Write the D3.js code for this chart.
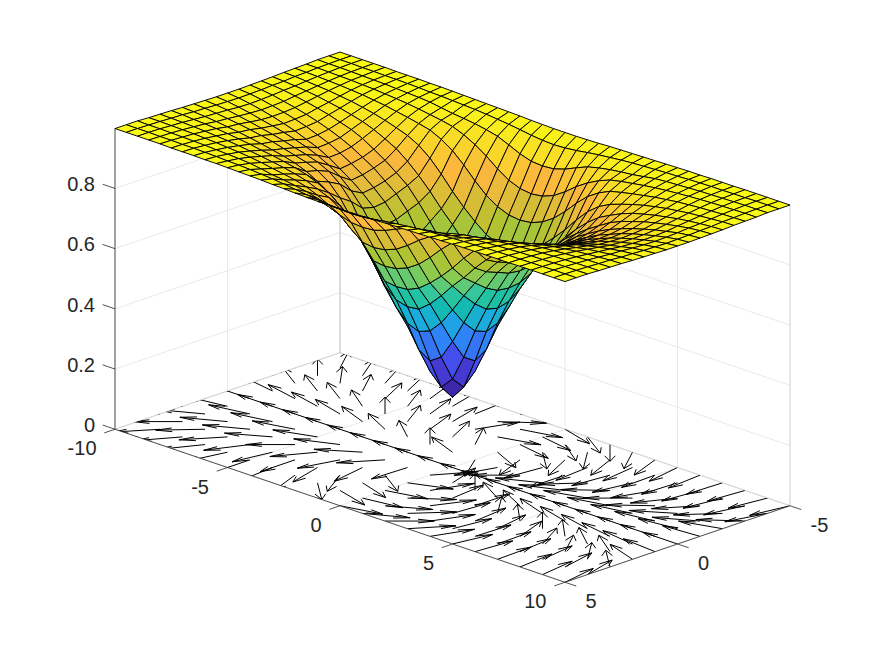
<!DOCTYPE html>
<html><head><meta charset="utf-8">
<script src="https://cdn.jsdelivr.net/npm/d3@7"></script>
<style>html,body{margin:0;background:#fff}svg{display:block}text{font-family:"Liberation Sans",Arial,sans-serif;font-size:20px;fill:#262626}</style>
</head><body><svg id="c" width="875" height="656"></svg>
<script>
// surface mesh coordinates
const surfX = d3.range(-20,21).map(d=>d/2);
const surfY = d3.range(-10,11).map(d=>d/2);
// surface height: rows |y| = 0, .5 ... 5, columns |x| = 0, .5 ... 10
// main table (x>=0 or y<=0)
const zRow00=[.233,.28,.38,.49,.58,.66,.73,.775,.81,.84,.865,.89,.91,.925,.94,.952,.963,.972,.98,.986,.99];
const zRow05=[.28,.32,.405,.505,.59,.665,.735,.78,.815,.845,.87,.892,.912,.927,.942,.954,.964,.973,.981,.987,.99];
const zRow10=[.38,.405,.47,.545,.62,.685,.75,.795,.825,.855,.878,.9,.918,.933,.946,.957,.967,.975,.983,.988,.991];
const zRow15=[.49,.505,.545,.6,.66,.715,.765,.81,.84,.868,.892,.915,.932,.944,.956,.965,.973,.98,.986,.99,.992];
const zRow20=[.585,.59,.62,.66,.705,.745,.79,.83,.865,.894,.914,.932,.946,.956,.965,.972,.979,.984,.988,.991,.993];
const zRow25=[.665,.668,.685,.715,.75,.79,.835,.875,.905,.925,.938,.95,.96,.968,.975,.98,.985,.988,.991,.994,.995];
const zRow30=[.745,.75,.765,.79,.825,.865,.9,.925,.943,.952,.96,.967,.974,.979,.984,.987,.99,.992,.994,.995,.996];
const zRow35=[.82,.825,.84,.865,.895,.92,.94,.955,.963,.969,.975,.98,.984,.987,.99,.992,.994,.995,.996,.997,.997];
const zRow40=[.9,.903,.915,.932,.948,.957,.964,.969,.973,.979,.985,.988,.99,.992,.994,.995,.996,.997,.998,.998,.999];
const zRow45=[.958,.96,.964,.97,.975,.979,.983,.986,.988,.99,.992,.993,.995,.996,.997,.997,.998,.998,.999,.999,.999];
const zRow50=[.986,.986,.987,.988,.99,.991,.992,.993,.994,.995,.996,.997,.997,.998,.998,.998,.999,.999,.999,.999,.999];
const zRows=[zRow00,zRow05,zRow10,zRow15,zRow20,zRow25,zRow30,zRow35,zRow40,zRow45,zRow50];
// the quarter with x<0 and y>0 is steeper
const zSteep00=[.233,.28,.38,.49,.58,.66,.73,.775,.81,.84,.865,.89,.91,.925,.94,.952,.963,.972,.98,.986,.99];
const zSteep05=[.28,.32,.405,.505,.59,.665,.73,.785,.83,.865,.89,.91,.925,.937,.948,.957,.965,.974,.981,.987,.99];
const zSteep10=[.38,.405,.47,.545,.63,.695,.75,.82,.865,.895,.913,.925,.935,.945,.954,.962,.97,.977,.984,.988,.991];
const zSteep15=[.49,.505,.545,.6,.67,.73,.79,.845,.885,.91,.925,.935,.945,.955,.963,.97,.976,.981,.986,.99,.992];
const zSteep20=[.585,.595,.63,.69,.745,.8,.845,.875,.9,.92,.935,.945,.953,.961,.968,.974,.979,.984,.988,.991,.993];
const zSteep25=[.665,.67,.72,.775,.825,.87,.9,.92,.935,.945,.953,.96,.965,.972,.977,.982,.986,.989,.991,.994,.995];
const zSteep30=[.745,.75,.8,.85,.885,.91,.925,.94,.95,.958,.964,.97,.975,.98,.984,.987,.99,.992,.994,.995,.996];
const zSteep35=[.82,.825,.855,.89,.91,.93,.945,.955,.962,.968,.975,.98,.984,.987,.99,.992,.994,.995,.996,.997,.997];
const zSteep40=[.9,.903,.915,.93,.945,.955,.962,.968,.972,.979,.985,.988,.99,.992,.994,.995,.996,.997,.998,.998,.999];
const zSteep45=[.958,.96,.962,.966,.97,.975,.98,.984,.987,.99,.992,.993,.995,.996,.997,.997,.998,.998,.999,.999,.999];
const zSteep50=[.986,.986,.986,.987,.988,.99,.991,.993,.994,.995,.996,.997,.997,.998,.998,.998,.999,.999,.999,.999,.999];
const zSteepRows=[zSteep00,zSteep05,zSteep10,zSteep15,zSteep20,zSteep25,zSteep30,zSteep35,zSteep40,zSteep45,zSteep50];
// arrow grid and arrow directions (degrees in the x-y plane), one row per y
const arrowX = d3.range(-10,11);
const arrowY = d3.range(-5,6);
const dirM5=[235,240,245,252,265,275,288,300,330,350,15,30,45,55,70,80,85,92,95,98,100];
const dirM4=[230,235,238,242,245,250,255,265,320,345,10,32,50,68,82,88,92,96,98,102,105];
const dirM3=[222,225,228,235,245,240,250,255,290,343,10,40,65,85,96,100,109,118,125,130,140];
const dirM2=[210,210,210,210,212,225,240,250,245,235,23,70,96,90,130,138,135,138,145,148,162];
const dirM1=[190,190,192,193,195,200,205,215,225,200,57,107,135,152,155,162,165,167,170,172,175];
const dirP0=[180,180,180,180,180,180,180,180,180,180,180,180,180,180,180,180,180,180,180,180,180];
const dirP1=[170,170,168,167,165,160,155,145,125,92,303,253,225,208,205,198,195,193,190,188,185];
const dirP2=[150,150,150,150,148,135,120,105,80,30,337,290,264,270,230,222,225,222,215,212,198];
const dirP3=[138,135,132,125,115,100,90,75,60,17,345,320,295,275,264,260,251,242,235,230,220];
const dirP4=[130,125,122,118,102,90,85,70,40,15,350,328,310,292,278,272,268,264,262,258,255];
const dirP5=[125,120,115,108,95,85,72,60,30,10,345,330,315,305,290,280,275,268,265,262,260];
const dirRows=[dirM5,dirM4,dirM3,dirM2,dirM1,dirP0,dirP1,dirP2,dirP3,dirP4,dirP5];
const arrowLength=1.55;
// ticks
const xTicks=[-10,-5,0,5,10], yTicks=[-5,0,5], zTicks=[0,.2,.4,.6,.8];
const zTickLabels=["0","0.2","0.4","0.6","0.8"];
// parula colour stops
const parulaStops=[0,.1,.23,.33,.43,.5,.6,.7,.8,.87,.93,1];
const parulaColors=["#3e26a8","#4747eb","#2d87f7","#1caadf","#12bea8","#31c69f","#80cc59","#b5c22f","#e4bb3a","#fbb83d","#f9d52b","#f9fb14"];

const sxFromX=d3.scaleLinear([-10,10],[-225,225]);
const sxFromY=d3.scaleLinear([-5,5],[112.5,-112.5]);
const syFromX=d3.scaleLinear([-10,10],[-76.5,76.5]);
const syFromY=d3.scaleLinear([-5,5],[-38.25,38.25]);
const syFromZ=d3.scaleLinear([0,1],[0,-301]);
const P=(x,y,z=0)=>[452.5+sxFromX(x)+sxFromY(y),467.5+syFromX(x)+syFromY(y)+syFromZ(z)];
const color=d3.scaleLinear().domain(parulaStops).range(parulaColors).interpolate(d3.interpolateRgb).clamp(true);
const zAt=(i,j)=>((i<20&&j>10)?zSteepRows:zRows)[Math.abs(j-10)][Math.abs(i-20)];
const cmin=.233,cmax=.999;
const line=d3.line();
const svg=d3.select("#c");

const x0=-10,x1=10,y0=-5,y1=5,zTop=1;
const G="#e3e3e3",A="#262626";
const seg=(a,b,c,w=.8)=>svg.append("path").attr("d",line([a,b])).attr("stroke",c).attr("stroke-width",w).attr("fill","none");
// grid: walls and floor
zTicks.forEach(z=>{seg(P(x0,y1,z),P(x0,y0,z),G);seg(P(x0,y0,z),P(x1,y0,z),G);});
xTicks.forEach(x=>{seg(P(x,y1),P(x,y0),G);seg(P(x,y0),P(x,y0,zTop),G);});
yTicks.forEach(y=>{seg(P(x0,y),P(x1,y),G);seg(P(x0,y),P(x0,y,zTop),G);});
seg(P(x0,y0),P(x0,y0,zTop),"#c4c4c4");seg(P(x1,y0),P(x1,y0,zTop),"#d4d4d4");
seg(P(x0,y1),P(x0,y0),"#d0d0d0");seg(P(x0,y0),P(x1,y0),"#d0d0d0");

// quiver, clipped to the floor
svg.append("clipPath").attr("id","floor").append("polygon")
  .attr("points",[P(x0,y1),P(x0,y0),P(x1,y0),P(x1,y1)].map(p=>p.join(",")).join(" "));
const q=svg.append("g").attr("clip-path","url(#floor)");
arrowY.forEach((y,j)=>arrowX.forEach((x,i)=>{
  const a=dirRows[j][i]*Math.PI/180,u=arrowLength*Math.cos(a),v=arrowLength*Math.sin(a);
  const al=.33,be=.33,tx=x+u,ty=y+v;
  q.append("path").attr("fill","none").attr("stroke","#000").attr("stroke-width",1)
   .attr("d",line([P(x,y),P(tx,ty)])+line([P(tx-al*(u+be*v),ty-al*(v-be*u)),P(tx,ty),P(tx-al*(u-be*v),ty-al*(v+be*u))]));
}));

// axes and ticks
seg(P(x0,y1),P(x0,y1,zTop),A);seg(P(x0,y1),P(x1,y1),A);seg(P(x1,y1),P(x1,y0),A);
zTicks.forEach(z=>seg(P(x0,y1,z),P(x0-.55,y1,z),A));
xTicks.forEach(x=>seg(P(x,y1),P(x,y1+.48),A));
yTicks.forEach(y=>seg(P(x1,y),P(x1+.5,y),A));
const label=(t,x,y,anchor)=>svg.append("text").text(t).attr("x",x).attr("y",y).attr("text-anchor",anchor).attr("dy",".36em");
zTicks.forEach((z,i)=>label(zTickLabels[i],95,P(x0,y1,z)[1]-4.5,"end"));
xTicks.forEach(x=>{const p=P(x,y1);label(String(x),p[0]-18.5,p[1]+19,"end");});
yTicks.forEach(y=>{const p=P(x1,y);label(String(y),p[0]+20.5,p[1]+19,"start");});

// surface, back to front
const quads=[];
surfY.slice(0,-1).forEach((y,j)=>surfX.slice(0,-1).forEach((x,i)=>{
  quads.push({pts:[P(x,y,zAt(i,j)),P(surfX[i+1],y,zAt(i+1,j)),P(surfX[i+1],surfY[j+1],zAt(i+1,j+1)),P(x,surfY[j+1],zAt(i,j+1))],z:zAt(i,j)});
}));
svg.append("g").selectAll("path").data(quads).join("path")
  .attr("d",d=>line(d.pts)+"Z").attr("fill",d=>color((d.z-cmin)/(cmax-cmin)))
  .attr("stroke","#000").attr("stroke-width",.95).attr("stroke-linejoin","round");
</script></body></html>
